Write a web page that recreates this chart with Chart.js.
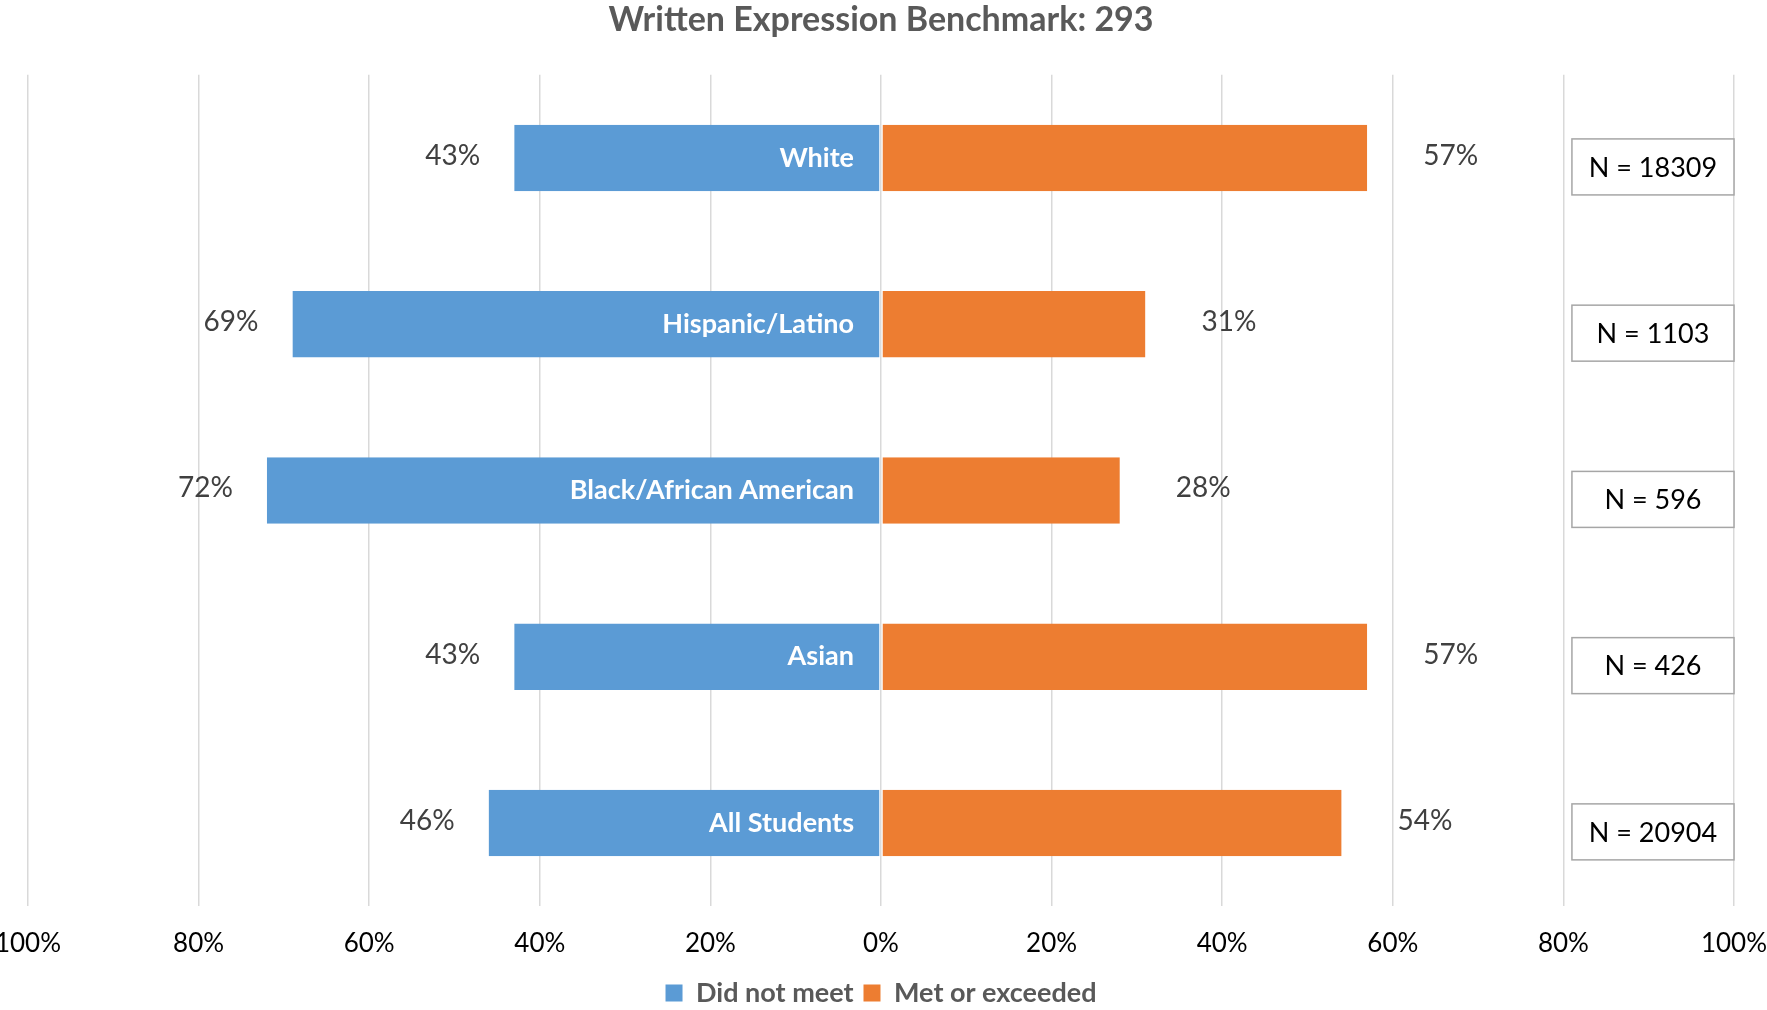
<!DOCTYPE html>
<html>
<head>
<meta charset="utf-8">
<script src="https://cdn.jsdelivr.net/npm/chart.js@4.4.1/dist/chart.umd.min.js"></script>
<style>
  html, body { margin: 0; padding: 0; background: #fff; }
  #wrap { width: 1767px; height: 1010px; position: relative; }
</style>
</head>
<body>
<div id="wrap"><canvas id="chart"></canvas></div>
<script>
const categories = ['White', 'Hispanic/Latino', 'Black/African American', 'Asian', 'All Students'];
const didNotMeet = [43, 69, 72, 43, 46];
const metOrExceeded = [57, 31, 28, 57, 54];
const nCounts = [18309, 1103, 596, 426, 20904];
const tickValues = [-100, -80, -60, -40, -20, 0, 20, 40, 60, 80, 100];

const FONT = 'Lato, "Open Sans", sans-serif';

// value labels, category names inside bars, and the N = boxes on the right
const barLabels = {
  id: 'barLabels',
  afterDatasetsDraw(chart) {
    const { ctx, scales: { x } } = chart;
    const zero = x.getPixelForValue(0);
    ctx.save();
    ctx.textBaseline = 'middle';
    chart.getDatasetMeta(0).data.forEach((bar, i) => {
      ctx.font = '28px ' + FONT;
      ctx.fillStyle = '#404040';
      ctx.textAlign = 'right';
      ctx.fillText(didNotMeet[i] + '%', bar.x - 34, bar.y - 2);
      ctx.font = 'bold 27px ' + FONT;
      ctx.fillStyle = '#ffffff';
      ctx.fillText(categories[i], zero - 27, bar.y);
    });
    chart.getDatasetMeta(1).data.forEach((bar, i) => {
      ctx.font = '28px ' + FONT;
      ctx.fillStyle = '#404040';
      ctx.textAlign = 'left';
      ctx.fillText(metOrExceeded[i] + '%', bar.x + 56, bar.y - 2);
    });
    const left = x.getPixelForValue(81);
    const right = x.getPixelForValue(100);
    chart.getDatasetMeta(0).data.forEach((bar, i) => {
      const cy = bar.y + 9;
      ctx.fillStyle = '#ffffff';
      ctx.fillRect(left, cy - 28, right - left, 56);
      ctx.strokeStyle = '#a6a6a6';
      ctx.lineWidth = 1.5;
      ctx.strokeRect(left, cy - 28, right - left, 56);
      ctx.font = '27px ' + FONT;
      ctx.fillStyle = '#000000';
      ctx.textAlign = 'center';
      ctx.fillText('N = ' + nCounts[i], (left + right) / 2, cy + 1);
    });
    ctx.restore();
  }
};

const ctx = document.getElementById('chart').getContext('2d');
new Chart(ctx, {
  type: 'bar',
  data: {
    labels: categories,
    datasets: [
      { label: 'Did not meet', data: didNotMeet.map(v => -v), backgroundColor: '#5B9BD5', borderColor: '#ffffff', borderWidth: { right: 1 }, borderSkipped: false },
      { label: 'Met or exceeded', data: metOrExceeded, backgroundColor: '#ED7D31', borderColor: '#ffffff', borderWidth: { left: 1 }, borderSkipped: false }
    ]
  },
  options: {
    indexAxis: 'y',
    responsive: true,
    maintainAspectRatio: false,
    animation: false,
    layout: { padding: { left: 28, right: 33, top: 0, bottom: -6.5 } },
    datasets: { bar: { categoryPercentage: 0.4, barPercentage: 1 } },
    scales: {
      x: {
        stacked: true,
        min: -100, max: 100,
        afterBuildTicks: (axis) => { axis.ticks = tickValues.map(v => ({ value: v })); },
        afterFit: (axis) => { axis.paddingLeft = 0; axis.paddingRight = 0; axis.height = 63.5; },
        grid: { color: '#d9d9d9', lineWidth: 1.5, drawTicks: false },
        border: { display: false },
        ticks: {
          padding: 19.5,
          color: '#000000',
          font: { family: FONT, size: 26, lineHeight: 1.423 },
          maxRotation: 0,
          autoSkip: false,
          callback: (v) => Math.abs(v) + '%'
        }
      },
      y: {
        stacked: true,
        display: false,
        grid: { display: false }
      }
    },
    plugins: {
      title: {
        display: true,
        text: 'Written Expression Benchmark: 293',
        color: '#595959',
        font: { family: FONT, size: 34, weight: 'bold' },
        padding: { top: 0, bottom: 34 }
      },
      legend: {
        position: 'bottom',
        labels: {
          color: '#595959',
          font: { family: FONT, size: 27, weight: 'bold' },
          boxWidth: 17,
          boxHeight: 17,
          padding: 10,
          generateLabels: (chart) => chart.data.datasets.map((ds, i) => ({
            text: ds.label, fillStyle: ds.backgroundColor, strokeStyle: ds.backgroundColor,
            lineWidth: 0, datasetIndex: i, hidden: false, fontColor: '#595959'
          }))
        }
      },
      tooltip: { enabled: false }
    }
  },
  plugins: [barLabels]
});
</script>
</body>
</html>
